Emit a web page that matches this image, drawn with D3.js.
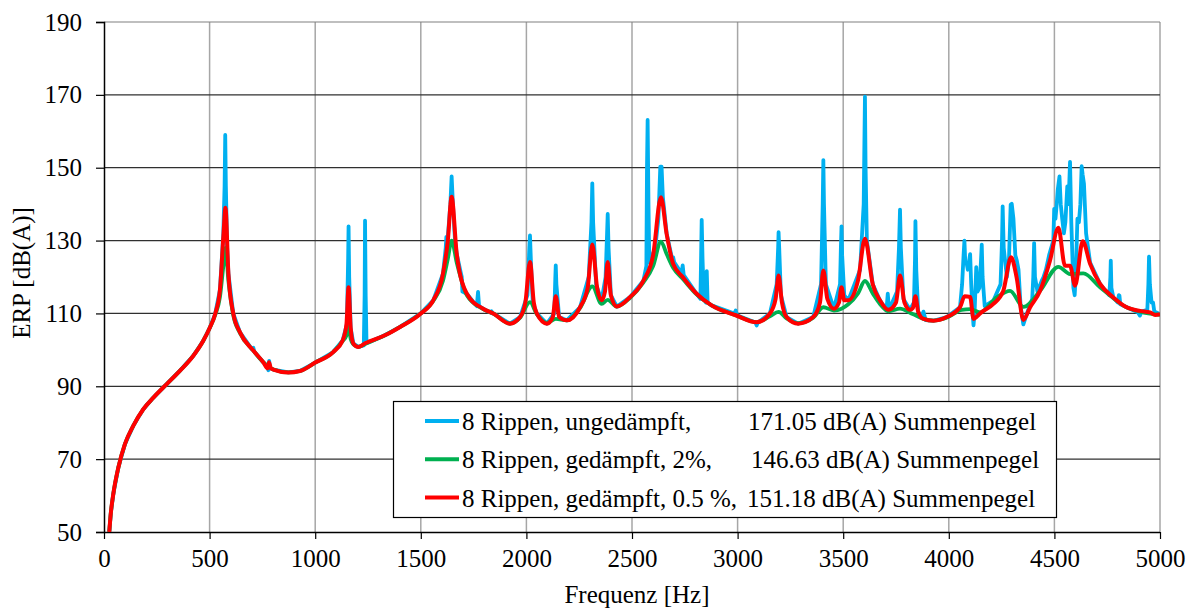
<!DOCTYPE html>
<html>
<head>
<meta charset="utf-8">
<script src="https://cdn.jsdelivr.net/npm/d3@7"></script>
<style>
  body { margin: 0; background: #fff; }
  svg { display: block; font-family: "Liberation Serif", "Times New Roman", serif; }
</style>
</head>
<body>
<div id="container"></div>
<script>
// x ticks / y ticks
const xTicks = [0, 500, 1000, 1500, 2000, 2500, 3000, 3500, 4000, 4500, 5000];
const yTicks = [50, 70, 90, 110, 130, 150, 170, 190];

// legend texts
const seriesNames = ["8 Rippen, ungedämpft,", "8 Rippen, gedämpft, 2%,", "8 Rippen, gedämpft, 0.5 %,"];
const seriesLevels = ["171.05 dB(A) Summenpegel", "146.63 dB(A) Summenpegel", "151.18 dB(A) Summenpegel"];

// [frequency Hz, ERP dB(A)]
const undamped = [
  [25,50],[32,55],[44,60.4],[68,67.7],[99,74.1],[139,79.2],[186,83.7],[234,86.9],[297,90.6],[360,94.3],
  [423,98.4],[470,102.5],[502,106.2],[526,109.8],[549,116.5],[565,132],[571,145],[574,159],[577,145],[583,128],
  [589,121],[612,110],[644,104.8],[700,100.2],[707,100.6],[712,99.5],[754,96.6],[772,95.5],[778,94.4],[782,97],
  [786,95],[802,94.6],[873,93.8],[928,94.2],[1000,96.5],[1085,99.4],[1130,102.6],[1150,107],[1156,125],[1158,133.9],
  [1161,120],[1168,106],[1181,101.7],[1205,100.8],[1230,101.2],[1234,115],[1236,135.5],[1239,115],[1243,101.8],
  [1330,104],[1402,106.3],[1500,110],[1559,113.6],[1605,120.9],[1618,128],[1621,131],[1628,131],[1640,140],
  [1646,147.6],[1652,140],[1662,130],[1670,126.4],[1690,121],[1694,120],[1697,116],[1718,115.4],[1765,112],
  [1771,115.9],[1776,112],[1795,111.3],[1832,110.2],[1835,110.6],[1838,110],[1843,110],[1922,107.2],[1970,109],
  [2005,115],[2014,128],[2017,131.4],[2021,125],[2030,113],[2049,110],[2097,107.2],[2132,110],[2137,120],
  [2139,123.2],[2142,118],[2155,109],[2191,108.1],[2254,111.7],[2295,120],[2308,135],[2312,145.7],[2316,135],
  [2330,118],[2356,113.6],[2375,120],[2382,132],[2385,137.3],[2389,128],[2400,115],[2428,111.9],[2491,114.5],
  [2554,119],[2568,123],[2571,150],[2574,163.1],[2578,140],[2582,124],[2610,128],[2625,136],[2634,150.3],
  [2640,150.3],[2646,142],[2664,132],[2690,125],[2695,125.4],[2700,124],[2735,121],[2740,123.2],[2745,120.5],
  [2806,115.4],[2824,114],[2827,125],[2830,135.7],[2834,125],[2840,114],[2850,113],[2854,121.6],[2858,113],
  [2877,112.2],[2985,110],[2991,110.8],[2997,109.5],[3085,107.5],[3090,106.7],[3096,107.5],[3153,110],[3185,118],
  [3192,128],[3194,132.3],[3197,128],[3205,115],[3232,109],[3287,107.2],[3358,109],[3395,118],[3403,140],
  [3406,152.1],[3409,140],[3418,118],[3456,111.3],[3485,118],[3489,128],[3492,133.9],[3495,126],[3505,115],
  [3524,113.6],[3580,122],[3597,140],[3601,160],[3603,169.5],[3606,150],[3612,130],[3640,118],[3674,113.6],
  [3705,111],[3711,115.4],[3717,111],[3755,116],[3764,128],[3769,138.5],[3773,128],[3785,114],[3816,111],
  [3835,113],[3840,125],[3842,135.3],[3846,122],[3855,110.5],[3870,109],[3880,110.5],[3890,108.2],[3927,108],
  [3990,109],[4053,111.7],[4063,118],[4070,126],[4074,130],[4078,124],[4085,123.6],[4090,122],[4095,124],
  [4101,126.3],[4106,118],[4113,110],[4117,106.7],[4122,110],[4130,122.7],[4136,116],[4145,117],[4152,124],
  [4156,128.9],[4160,120],[4170,112],[4211,113.5],[4245,118],[4252,130],[4255,139.4],[4260,128],[4275,120],
  [4285,125],[4293,139.9],[4298,140.1],[4306,136],[4315,126],[4322,124.5],[4330,122],[4340,112],[4353,107],
  [4370,110],[4395,114],[4400,120],[4404,129.3],[4408,120],[4420,116],[4440,119],[4448,119.9],[4460,122],
  [4475,126],[4495,130],[4499,138.7],[4505,136],[4511,140],[4516,144],[4524,147.6],[4530,140],[4537,136],
  [4545,132],[4552,135],[4561,144.9],[4567,140],[4574,151.6],[4580,135],[4590,117],[4596,115],[4601,120],
  [4609,136],[4616,135],[4623,140],[4629,150.4],[4634,148],[4640,145.6],[4650,132],[4669,124],[4716,118.1],
  [4760,115],[4765,120],[4767,124.5],[4770,117],[4779,114.4],[4800,113],[4805,115],[4808,114.9],[4812,112.5],
  [4842,111.7],[4895,110.3],[4905,109.4],[4912,110.5],[4940,111],[4945,118],[4948,125.6],[4952,118],[4960,113],
  [4967,113],[4973,110.5],[5000,109.8]
];

const damped2 = [
  [25,50],[32,55],[44,60.4],[68,67.7],[99,74.1],[139,79.2],[186,83.7],[234,86.9],[297,90.6],[360,94.3],
  [423,98.4],[470,102.5],[502,106.2],[526,109.5],[549,114.5],[565,123],[575,128],[589,119],[612,109.5],
  [644,104.6],[707,99.8],[754,96.6],[802,94.6],[873,93.8],[928,94.2],[1000,96.5],[1085,99.4],[1130,102.4],
  [1148,104],[1158,106.3],[1168,103],[1181,101.5],[1205,100.8],[1236,101.6],[1330,104],[1402,106.3],[1500,110],
  [1559,113.4],[1605,119],[1628,125],[1646,130],[1670,124],[1718,115],[1795,111.2],[1843,110],[1922,107.2],
  [1970,108.8],[2017,113.1],[2049,109.8],[2097,107.4],[2139,108.5],[2191,108.1],[2254,111.5],[2312,117.4],
  [2356,112.6],[2385,113.7],[2428,111.9],[2491,114.3],[2554,118.5],[2600,123],[2637,129.7],[2664,126.3],
  [2695,122.5],[2740,119.5],[2806,115.2],[2877,112.2],[2991,109.5],[3090,107.6],[3153,109.2],[3194,110.4],
  [3232,108.6],[3287,107.3],[3358,108.8],[3406,111.7],[3456,110.8],[3492,111.3],[3524,112.5],[3570,115.5],
  [3603,118.9],[3640,115.5],[3674,112.6],[3714,110.6],[3769,111.3],[3816,110.2],[3842,109.5],[3880,108.5],
  [3927,108],[3997,109],[4061,111],[4101,111.2],[4148,110.3],[4227,114.4],[4290,116.2],[4353,111.8],
  [4432,116.2],[4519,122.8],[4574,120.8],[4637,121],[4716,117.2],[4842,111.7],[4905,110.5],[5000,109.6]
];

const damped05 = [
  [25,50],[32,55],[44,60.4],[68,67.7],[99,74.1],[139,79.2],[186,83.7],[234,86.9],[297,90.6],[360,94.3],
  [423,98.4],[470,102.5],[502,106.2],[526,109.8],[549,116.5],[565,131],[575,139],[589,121],[612,110],
  [644,104.8],[707,99.8],[754,96.6],[775,94.9],[781,96.6],[790,95],[802,94.6],[873,93.8],[928,94.2],[1000,96.5],
  [1085,99.4],[1130,102.6],[1148,107],[1158,117.2],[1168,106],[1181,101.7],[1205,100.8],[1236,101.8],[1330,104],
  [1402,106.3],[1500,110],[1559,113.6],[1605,120.9],[1628,130],[1646,142],[1670,126.4],[1718,115.4],[1795,111.3],
  [1843,110],[1922,107.2],[1970,109],[1995,113],[2017,124.1],[2035,113],[2049,110],[2097,107.2],[2125,109],
  [2139,114.7],[2155,109],[2191,108.1],[2254,111.7],[2290,117],[2312,128.9],[2335,117],[2356,113.6],[2372,116],
  [2385,124.1],[2400,115],[2428,111.9],[2491,114.5],[2554,119],[2600,126],[2637,141.9],[2664,131.8],[2695,123.6],
  [2740,120],[2806,115.4],[2877,112.2],[2991,109.5],[3090,107.6],[3153,110],[3180,114],[3194,120.4],[3210,113],
  [3232,109],[3287,107.2],[3358,109],[3390,113],[3406,121.8],[3425,114],[3456,111.3],[3480,113],[3492,117.2],
  [3505,113.6],[3524,113.6],[3570,119],[3603,130.5],[3640,118],[3674,113.6],[3714,111],[3750,113],[3769,120.4],
  [3790,113],[3816,111],[3830,111.5],[3842,114.7],[3855,110.5],[3880,108.5],[3927,108],[3990,109],[4053,111.7],
  [4075,114.7],[4101,114.5],[4117,108.5],[4130,109],[4148,110],[4211,112.6],[4258,116.2],[4295,125.4],
  [4321,119.9],[4353,108.2],[4385,111.7],[4432,116.2],[4479,124.5],[4519,133.5],[4550,123.1],[4574,123.1],
  [4598,117.6],[4634,129.8],[4669,123.6],[4716,118.1],[4779,114.4],[4842,111.7],[4905,110.7],[4953,110.3],
  [4977,109.6],[5000,109.8]
];

const colors = ["#00b0f0", "#00b050", "#ff0000"];

const W = 1194, H = 608;
const mLeft = 104, mRight = 1160, mTop = 22, mBottom = 532;

const svg = d3.select("div#container")
  .append("svg")
  .attr("width", W)
  .attr("height", H);

const x = d3.scaleLinear().domain([0, 5000]).range([mLeft, mRight]);
const y = d3.scaleLinear().domain([50, 190]).range([mBottom, mTop]);

// grid
svg.append("g")
  .selectAll("line")
  .data(xTicks.slice(1))
  .enter().append("line")
  .attr("x1", d => x(d)).attr("x2", d => x(d))
  .attr("y1", mTop).attr("y2", mBottom)
  .attr("stroke", "#a6a6a6")
  .attr("stroke-width", 1.5);

svg.append("g")
  .selectAll("line")
  .data(yTicks.slice(1))
  .enter().append("line")
  .attr("x1", mLeft).attr("x2", mRight)
  .attr("y1", d => y(d)).attr("y2", d => y(d))
  .attr("stroke", d => d == 190 ? "#808080" : "#303030")
  .attr("stroke-width", 1.2);

// axes
const xAxis = svg.append("g")
  .attr("transform", "translate(0," + mBottom + ")")
  .call(d3.axisBottom(x).tickValues(xTicks).tickSize(7).tickPadding(10).tickFormat(d3.format("d")));
const yAxis = svg.append("g")
  .attr("transform", "translate(" + mLeft + ",0)")
  .call(d3.axisLeft(y).tickValues(yTicks).tickSize(8).tickPadding(14));

[xAxis, yAxis].forEach(a => {
  a.select(".domain").attr("stroke", "#000").attr("stroke-width", 1.5);
  a.selectAll(".tick line").attr("stroke", "#000").attr("stroke-width", 1.2);
  a.selectAll("text")
    .attr("fill", "#000")
    .style("font-family", "'Liberation Serif', serif")
    .style("font-size", "25px");
});
xAxis.select(".domain").attr("d", "M" + mLeft + ",0.5H" + mRight);

// lines
svg.append("clipPath").attr("id", "plot")
  .append("rect").attr("x", mLeft).attr("y", mTop).attr("width", mRight - mLeft).attr("height", mBottom - mTop);

const lineLin = d3.line().x(d => x(d[0])).y(d => y(d[1]));
const lineSmooth = d3.line().x(d => x(d[0])).y(d => y(d[1])).curve(d3.curveMonotoneX);

const lines = svg.append("g").attr("clip-path", "url(#plot)");
lines.append("path").datum(undamped)
  .attr("d", lineLin).attr("fill", "none")
  .attr("stroke", colors[0]).attr("stroke-width", 3.8)
  .attr("stroke-linejoin", "round").attr("stroke-linecap", "round");
lines.append("path").datum(damped2)
  .attr("d", lineSmooth).attr("fill", "none")
  .attr("stroke", colors[1]).attr("stroke-width", 3.8)
  .attr("stroke-linejoin", "round");
lines.append("path").datum(damped05)
  .attr("d", lineSmooth).attr("fill", "none")
  .attr("stroke", colors[2]).attr("stroke-width", 4)
  .attr("stroke-linejoin", "round");

// axis titles
svg.append("text")
  .attr("x", (mLeft + mRight) / 2 + 5).attr("y", 603)
  .attr("text-anchor", "middle")
  .style("font-size", "25px")
  .text("Frequenz [Hz]");
svg.append("text")
  .attr("transform", "translate(30," + ((mTop + mBottom) / 2 - 4) + ") rotate(-90)")
  .attr("text-anchor", "middle")
  .style("font-size", "25px")
  .text("ERP [dB(A)]");

// legend
const leg = svg.append("g");
leg.append("rect")
  .attr("x", 393.5).attr("y", 401.5).attr("width", 663).attr("height", 116)
  .attr("fill", "#fff").attr("stroke", "#000").attr("stroke-width", 1.2);

const levelX = [748, 751, 747];
const rows = leg.selectAll("g.row")
  .data(seriesNames)
  .enter().append("g")
  .attr("class", "row")
  .attr("transform", (d, i) => "translate(0," + (421 + i * 38.3) + ")");
rows.append("line")
  .attr("x1", 425).attr("x2", 459).attr("y1", 0).attr("y2", 0)
  .attr("stroke", (d, i) => colors[i]).attr("stroke-width", 4);
rows.append("text")
  .attr("x", 462).attr("y", 9)
  .style("font-size", "25px")
  .text(d => d);
rows.append("text")
  .attr("x", (d, i) => levelX[i]).attr("y", 9)
  .style("font-size", "25px")
  .text((d, i) => seriesLevels[i]);
</script>
</body>
</html>
